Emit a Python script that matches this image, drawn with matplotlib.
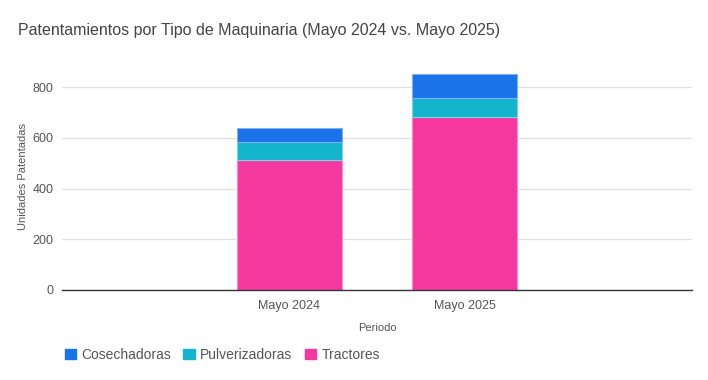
import matplotlib
matplotlib.use("Agg")
import matplotlib.pyplot as plt
from matplotlib.patches import Patch

plt.rcParams['font.family'] = ['Liberation Sans', 'DejaVu Sans']

periods = ["Mayo 2024", "Mayo 2025"]
tractores = [512, 684]
pulverizadoras = [72, 74]
cosechadoras = [57, 95]
series_names = ["Cosechadoras", "Pulverizadoras", "Tractores"]
colors = {"Tractores": "#f538a0", "Pulverizadoras": "#12b5cb", "Cosechadoras": "#1a73e8"}
edges = {"Tractores": "#f98fc9", "Pulverizadoras": "#7fd6e3", "Cosechadoras": "#7eb0f2"}
yticks = [0, 200, 400, 600, 800]

fig = plt.figure(figsize=(7.08, 3.8), dpi=100)
ax = fig.add_axes([62/708, 90/380, 630/708, 228/380])

x = list(range(len(periods)))
w = 0.6
bottom = [0, 0]
for name, vals in [("Tractores", tractores), ("Pulverizadoras", pulverizadoras), ("Cosechadoras", cosechadoras)]:
    ax.bar(x, vals, w, bottom=bottom, color=colors[name], edgecolor=edges[name], linewidth=0.8, zorder=3)
    bottom = [b + v for b, v in zip(bottom, vals)]

ax.set_xlim(-1.3, 2.3)
ax.set_ylim(0, 900)
ax.set_yticks(yticks)
ax.set_yticklabels([str(t) for t in yticks])
ax.set_xticks(x)
ax.set_xticklabels(periods)
ax.tick_params(axis='both', length=0, colors="#555555", labelsize=9)
ax.tick_params(axis='y', pad=6)
ax.tick_params(axis='x', pad=7)
ax.grid(axis='y', color="#e0e0e0", linewidth=0.9, zorder=0)
for s in ["top", "right", "left"]:
    ax.spines[s].set_visible(False)
ax.spines["bottom"].set_color("#333333")
ax.spines["bottom"].set_linewidth(1)
ax.spines["bottom"].set_zorder(4)

ax.set_xlabel("Periodo", fontsize=8, color="#555555", labelpad=8)
ax.set_ylabel("Unidades Patentadas", fontsize=8, color="#555555", labelpad=3)

fig.text(18/708, 1 - 31/380, "Patentamientos por Tipo de Maquinaria (Mayo 2024 vs. Mayo 2025)",
         fontsize=11.5, color="#444444", va="center", ha="left")

handles = [Patch(facecolor=colors[n], edgecolor=colors[n], label=n) for n in series_names]
leg = fig.legend(handles=handles, loc="center left", bbox_to_anchor=(52/708, 1 - 355/380),
                 ncol=3, frameon=False, fontsize=10, handlelength=0.8, handleheight=0.8,
                 handletextpad=0.4, columnspacing=0.9, labelcolor="#555555")

fig.savefig("out.png", dpi=100)
